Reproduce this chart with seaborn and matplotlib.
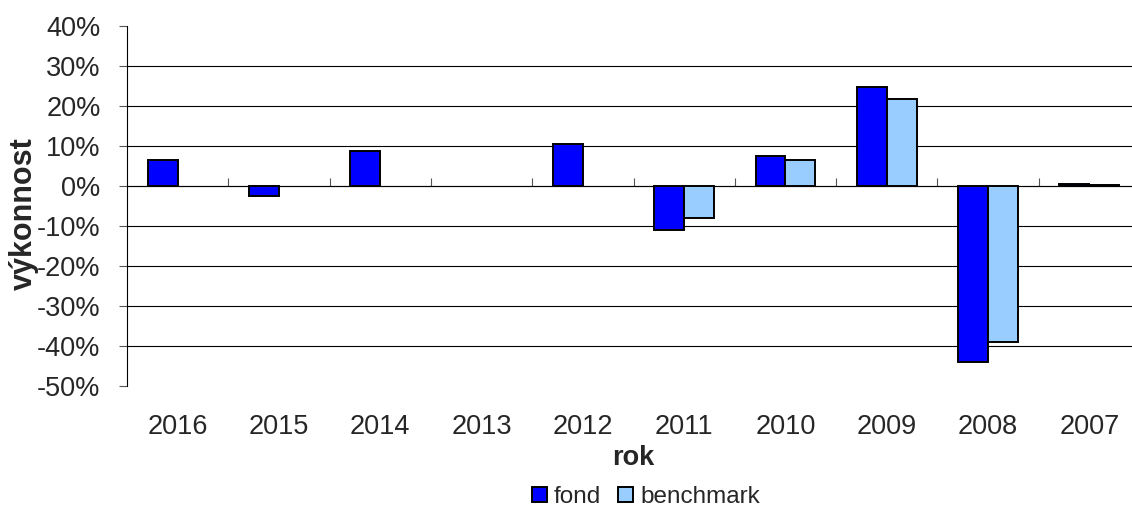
import numpy as np
import pandas as pd
import seaborn as sns
import matplotlib.pyplot as plt
from matplotlib.ticker import PercentFormatter

years = ["2016", "2015", "2014", "2013", "2012", "2011", "2010", "2009", "2008", "2007"]
fond = [0.066, -0.026, 0.087, np.nan, 0.106, -0.109, 0.074, 0.247, -0.441, 0.006]
benchmark = [np.nan, np.nan, np.nan, np.nan, np.nan, -0.079, 0.066, 0.217, -0.389, 0.002]
series = ["fond", "benchmark"]
colors = ["#0000FF", "#99CCFF"]
y_ticks = [-0.5, -0.4, -0.3, -0.2, -0.1, 0.0, 0.1, 0.2, 0.3, 0.4]

df = pd.DataFrame({
    "rok": years * 2,
    "serie": ["fond"] * len(years) + ["benchmark"] * len(years),
    "value": fond + benchmark,
})

sns.set_style("white")
plt.rcParams["font.family"] = ["Liberation Sans", "DejaVu Sans"]
plt.rcParams["axes.unicode_minus"] = False

fig = plt.figure(figsize=(11.32, 5.14), dpi=100)
ax = fig.add_axes([127 / 1132, 128 / 514, 1013 / 1132, 360 / 514])

sns.barplot(data=df, x="rok", y="value", hue="serie", order=years, hue_order=series,
            palette=colors, saturation=1, width=0.59, edgecolor="black", linewidth=1.4,
            errorbar=None, legend=False, ax=ax)

ax.set_ylim(-0.5, 0.4)
ax.set_xlim(-0.5, len(years) - 0.5)
ax.set_yticks(y_ticks)
ax.yaxis.set_major_formatter(PercentFormatter(1.0, decimals=0))
ax.yaxis.grid(True, color="black", linewidth=0.8)
ax.set_axisbelow(True)
gl = ax.yaxis.get_gridlines()
gl[0].set_visible(False)
gl[-1].set_visible(False)

for s in ["top", "right", "bottom"]:
    ax.spines[s].set_visible(False)
ax.spines["left"].set_color("black")
ax.spines["left"].set_linewidth(0.8)

ax.tick_params(axis="y", left=True, direction="out", length=6, width=0.8,
               color="#555555", labelsize=19.5, pad=13)
ax.tick_params(axis="x", bottom=False, labelsize=19.5, pad=17)

# category boundary ticks on the zero line
zero = ax.secondary_xaxis(0.5 / 0.9)
zero.set_xticks(np.arange(0.5, len(years) - 1, 1.0))
zero.set_xticklabels([])
zero.tick_params(direction="out", length=6, width=0.8, color="#555555")
zero.spines["bottom"].set_color("#444444")
zero.spines["bottom"].set_linewidth(0.8)

ax.set_xlabel("rok", fontsize=19.5, fontweight="bold")
ax.set_ylabel("výkonnost", fontsize=22, fontweight="bold")
ax.xaxis.set_label_coords(0.5, -0.165)
ax.yaxis.set_label_coords(-0.087, 0.48)

handles = [plt.Rectangle((0, 0), 1, 1, facecolor=c, edgecolor="black", linewidth=1.4) for c in colors]
fig.legend(handles, series, loc="center", bbox_to_anchor=(646 / 1132, 17 / 514),
           ncol=2, frameon=False, fontsize=17.5, handlelength=0.6, handleheight=0.6,
           handletextpad=0.3, columnspacing=0.7, borderaxespad=0)

fig.savefig("out.png", dpi=100)
